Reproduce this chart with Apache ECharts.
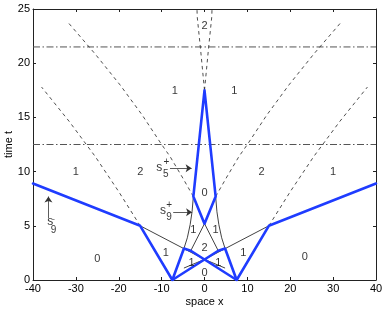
<!DOCTYPE html>
<html>
<head>
<meta charset="utf-8">
<script src="https://cdn.jsdelivr.net/npm/echarts@6/dist/echarts.min.js"></script>
<style>html,body{margin:0;padding:0;background:#fff}#c{width:386px;height:309px}</style>
</head>
<body>
<div id="c"></div>
<script>
// ---- data ----
const xRange = [-40, 40, 10];
const yRange = [0, 25, 5];
const blueLines = [
  [[-40, 8.9], [-15, 5], [-7.5, 0]],
  [[40, 8.9], [15, 5], [7.5, 0]],
  [[-7.5, 0], [-4.8, 2.9], [-3.2, 2.7], [7.5, 0]],
  [[7.5, 0], [4.8, 2.9], [3.2, 2.7], [-7.5, 0]],
  [[-2.6, 7.7], [0, 17.5], [2.6, 7.7], [0, 5.2], [-2.6, 7.7]]
];
const thinLines = [
  [[-15, 5], [0, 1.9], [4.8, 1.1]],
  [[15, 5], [0, 1.9], [-4.8, 1.1]],
  [[-3.2, 2.7], [0, 5.2], [3.2, 2.7]],
  [[-4.8, 2.9], [-4.0, 3.9], [-3.35, 5.1], [-2.9, 6.3], [-2.6, 7.7]],
  [[4.8, 2.9], [4.0, 3.9], [3.35, 5.1], [2.9, 6.3], [2.6, 7.7]]
];
const dashedLines = [
  [[-15, 5], [-20, 8.15], [-25.5, 11.4], [-31.5, 14.6], [-38, 17.8]],
  [[15, 5], [20, 8.15], [25.5, 11.4], [31.5, 14.6], [38, 17.8]],
  [[-2.6, 7.7], [-5.2, 9.5], [-8.05, 11.4], [-10, 12.5], [-14.5, 15.2], [-19.7, 18], [-25.5, 20.85], [-31.8, 23.75]],
  [[2.6, 7.7], [5.2, 9.5], [8.05, 11.4], [10, 12.5], [14.5, 15.2], [19.7, 18], [25.5, 20.85], [31.8, 23.75]],
  [[0, 17.5], [-0.9, 21.2], [-1.7, 24.3], [-1.75, 25]],
  [[0, 17.5], [0.9, 21.2], [1.7, 24.3], [1.75, 25]]
];
const dashDotLevels = [12.5, 21.5];
const regionLabels = [
  ['0', -25, 1.95], ['0', 23.4, 2.1],
  ['1', -30, 10], ['2', -15, 10], ['2', 13.3, 10], ['1', 30, 10],
  ['1', -9.05, 2.46], ['1', 9.05, 2.46],
  ['0', 0, 8.0], ['1', -2.6, 4.6], ['1', 2.6, 4.6],
  ['2', 0, 3.0], ['1', -3.0, 1.54], ['1', 3.2, 1.54], ['0', 0, 0.62],
  ['1', -6.9, 17.4], ['1', 6.95, 17.4], ['2', 0, 23.45]
];
// annotation text: [text, x, t, fontSize]
const annoTexts = [
  ['s', -10.55, 10.35, 12], ['+', -8.9, 10.85, 10], ['5', -9.05, 9.8, 10],
  ['s', -9.7, 6.4, 12], ['+', -8.25, 6.9, 10], ['9', -8.25, 5.8, 10],
  ['s', -36.0, 5.35, 12], ['-', -35.2, 5.65, 8], ['9', -35.2, 4.6, 10]
];
// arrows: [[x0,t0],[x1,t1]]
const arrows = [
  [[-8.05, 10.31], [-3.0, 10.31]],
  [[-7.3, 6.25], [-2.9, 6.25]],
  [[-36.4, 5.7], [-36.4, 7.7]]
];

// ---- chart ----
const chart = echarts.init(document.getElementById('c'), null, {renderer: 'canvas'});
const FONT = 'Liberation Sans, Arial, Helvetica, sans-serif';
const series = [];
dashDotLevels.forEach(t => series.push({
  type: 'line', data: [[xRange[0], t], [xRange[1], t]], symbol: 'none', silent: true,
  lineStyle: {color: '#555', width: 1, type: [7, 2.5, 1.5, 2.5]}, z: 2
}));
dashedLines.forEach(d => series.push({
  type: 'line', data: d, symbol: 'none', silent: true, smooth: false,
  lineStyle: {color: '#222', width: 0.8, type: [3.5, 3.5]}, z: 3
}));
thinLines.forEach(d => series.push({
  type: 'line', data: d, symbol: 'none', silent: true,
  lineStyle: {color: '#111', width: 0.8}, z: 3
}));
blueLines.forEach(d => series.push({
  type: 'line', data: d, symbol: 'none', silent: true,
  lineStyle: {color: '#1f3cff', width: 2.6, join: 'round', cap: 'round'}, z: 4
}));
series.push({
  type: 'scatter', symbolSize: 1, silent: true, z: 5,
  itemStyle: {color: 'rgba(0,0,0,0)'},
  data: regionLabels.map(r => ({name: r[0], value: [r[1], r[2]]})),
  label: {show: true, position: 'inside', formatter: '{b}', color: '#000', fontSize: 11, fontFamily: FONT}
});
series.push({
  type: 'scatter', symbolSize: 1, silent: true, z: 5,
  itemStyle: {color: 'rgba(0,0,0,0)'},
  data: annoTexts.map(r => ({name: r[0], value: [r[1], r[2]], label: {fontSize: r[3]}})),
  label: {show: true, position: 'inside', formatter: '{b}', color: '#000', fontFamily: FONT},
  markLine: {
    silent: true, symbol: ['none', 'arrow'], symbolSize: 6, animation: false,
    label: {show: false},
    lineStyle: {color: '#333', width: 0.8, type: 'solid'},
    data: arrows.map(a => [{coord: a[0]}, {coord: a[1]}])
  }
});

const axisCommon = {
  type: 'value', splitLine: {show: false},
  axisLine: {show: true, onZero: false, lineStyle: {color: '#222', width: 1}},
  axisTick: {show: true, inside: true, length: 3, lineStyle: {color: '#222'}}
};
chart.setOption({
  animation: false,
  backgroundColor: '#fff',
  grid: {left: 33, right: 10, top: 9, bottom: 29, containLabel: false, outerBoundsMode: 'none'},
  xAxis: [
    Object.assign({}, axisCommon, {
      position: 'bottom', min: xRange[0], max: xRange[1], interval: xRange[2],
      name: 'space x', nameLocation: 'middle', nameGap: 16, nameMoveOverlap: false,
      nameTextStyle: {color: '#000', fontSize: 11, fontFamily: FONT},
      axisLabel: {color: '#000', fontSize: 11, fontFamily: FONT, margin: 3}
    }),
    Object.assign({}, axisCommon, {
      position: 'top', min: xRange[0], max: xRange[1], interval: xRange[2],
      axisLabel: {show: false}
    })
  ],
  yAxis: [
    Object.assign({}, axisCommon, {
      position: 'left', min: yRange[0], max: yRange[1], interval: yRange[2],
      name: 'time t', nameLocation: 'middle', nameGap: 19, nameRotate: 90, nameMoveOverlap: false,
      nameTextStyle: {color: '#000', fontSize: 11, fontFamily: FONT},
      axisLabel: {color: '#000', fontSize: 11, fontFamily: FONT, margin: 3}
    }),
    Object.assign({}, axisCommon, {
      position: 'right', min: yRange[0], max: yRange[1], interval: yRange[2],
      axisLabel: {show: false}
    })
  ],
  series: series
});
</script>
</body>
</html>
